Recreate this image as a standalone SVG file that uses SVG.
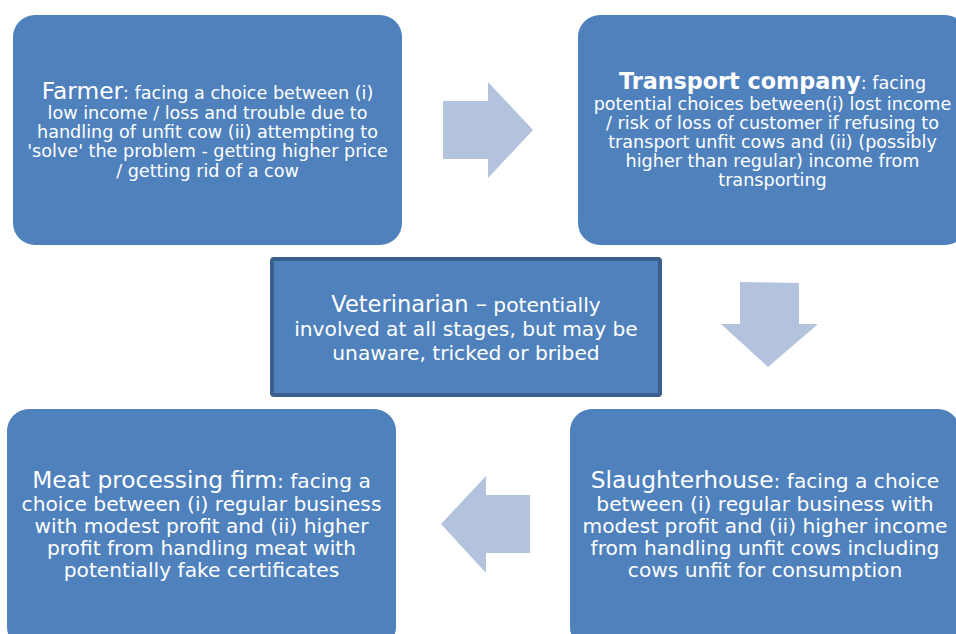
<svg xmlns="http://www.w3.org/2000/svg" width="956" height="634" viewBox="0 0 956 634">
<style>
.box{fill:#4F81BD;}
.vet{fill:#4F81BD;stroke:#3A5F8D;stroke-width:4;}
.arr{fill:#B3C2DD;}
text{font-family:"DejaVu Sans","Verdana",sans-serif;fill:#FFFFFF;text-anchor:middle;}
.s{font-size:17.6px;}
.b{font-size:20.2px;}
.h{font-size:23.3px;}
.hb{font-size:22.3px;font-weight:bold;}
</style>
<rect width="956" height="634" fill="#FFFFFF"/>
<g id="connectors">
<polygon class="arr" points="443,101 488,101 488,82 533,130 488,178 488,159 443,159"/>
<polygon class="arr" points="740,282 799,283 799,324 818,324 768,367 721,324 740,324"/>
<polygon class="arr" points="530,495 486,495 486,476 441,524 486,573 486,553 530,553"/>
</g>
<g id="farmer">
<rect class="box" x="13" y="15" width="389" height="230" rx="22"/>
<text class="s" x="207.5" y="99"><tspan class="h">Farmer</tspan>: facing a choice between (i)</text>
<text class="s" x="207.5" y="119">low income / loss and trouble due to</text>
<text class="s" x="207.5" y="138">handling of unfit cow (ii) attempting to</text>
<text class="s" x="207.5" y="157">'solve' the problem - getting higher price</text>
<text class="s" x="207.5" y="177">/ getting rid of a cow</text>
</g>
<g id="transport">
<rect class="box" x="578" y="15" width="389" height="230" rx="22"/>
<text class="s" x="772.5" y="89"><tspan class="hb">Transport company</tspan>: facing</text>
<text class="s" x="772.5" y="110">potential choices between(i) lost income</text>
<text class="s" x="772.5" y="129">/ risk of loss of customer if refusing to</text>
<text class="s" x="772.5" y="148">transport unfit cows and (ii) (possibly</text>
<text class="s" x="772.5" y="167">higher than regular) income from</text>
<text class="s" x="772.5" y="186">transporting</text>
</g>
<g id="veterinarian">
<rect class="vet" x="272" y="259" width="388" height="136" rx="2"/>
<text class="b" x="466" y="312"><tspan style="font-size:22.5px">Veterinarian –</tspan> potentially</text>
<text class="b" x="466" y="336">involved at all stages, but may be</text>
<text class="b" x="466" y="360">unaware, tricked or bribed</text>
</g>
<g id="slaughterhouse">
<rect class="box" x="570" y="409" width="390" height="240" rx="22"/>
<text class="b" x="765" y="488"><tspan class="h">Slaughterhouse</tspan>: facing a choice</text>
<text class="b" x="765" y="511">between (i) regular business with</text>
<text class="b" x="765" y="533">modest profit and (ii) higher income</text>
<text class="b" x="765" y="555">from handling unfit cows including</text>
<text class="b" x="765" y="577">cows unfit for consumption</text>
</g>
<g id="meat-processing-firm">
<rect class="box" x="7" y="409" width="389" height="240" rx="22"/>
<text class="b" x="201.5" y="488"><tspan class="h">Meat processing firm</tspan>: facing a</text>
<text class="b" x="201.5" y="511">choice between (i) regular business</text>
<text class="b" x="201.5" y="533">with modest profit and (ii) higher</text>
<text class="b" x="201.5" y="555">profit from handling meat with</text>
<text class="b" x="201.5" y="577">potentially fake certificates</text>
</g>
</svg>
